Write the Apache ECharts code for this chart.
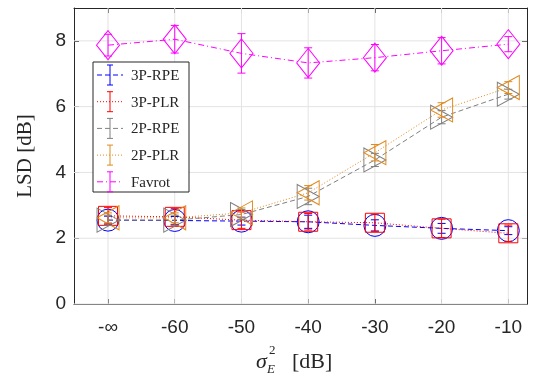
<!DOCTYPE html>
<html>
<head>
<meta charset="utf-8">
<script src="https://cdn.jsdelivr.net/npm/echarts@6/dist/echarts.min.js"></script>
<style>
  html, body { margin: 0; padding: 0; background: #fff; }
  #chart { width: 540px; height: 384px; }
</style>
</head>
<body>
<div id="chart"></div>
<script>
// x categories (noise level)
var categories = ['-∞', '-60', '-50', '-40', '-30', '-20', '-10'];
var xTicks = [0, 1, 2, 3, 4, 5, 6];
var yTicks = [0, 2, 4, 6, 8];

// LSD means and error half-widths
var rpe3 = [2.55, 2.54, 2.52, 2.50, 2.39, 2.30, 2.23];
var rpe3Err = [0.12, 0.12, 0.12, 0.20, 0.17, 0.15, 0.12];
var plr3 = [2.68, 2.65, 2.55, 2.50, 2.47, 2.30, 2.15];
var plr3Err = [0.25, 0.25, 0.25, 0.25, 0.26, 0.28, 0.25];
var rpe2 = [2.55, 2.55, 2.72, 3.27, 4.38, 5.68, 6.38];
var rpe2Err = [0.15, 0.15, 0.15, 0.25, 0.20, 0.20, 0.15];
var plr2 = [2.62, 2.62, 2.77, 3.38, 4.60, 5.90, 6.58];
var plr2Err = [0.15, 0.15, 0.15, 0.22, 0.25, 0.22, 0.18];
var favrot = [7.87, 8.05, 7.62, 7.33, 7.49, 7.70, 7.90];
var favrotErr = [0.33, 0.42, 0.60, 0.46, 0.40, 0.40, 0.23];

var serif = '"Liberation Serif", "DejaVu Serif", serif';
var sans = '"Liberation Sans", Arial, sans-serif';

var triRight = 'path://M0,0L10,6L0,12Z';
var triLeft = 'path://M10,0L0,6L10,12Z';

// 各曲线设置
var curves = [
    { name: '3P-RPE', y: rpe3, err: rpe3Err, color: '#0000ff', type: [5, 3], symbol: 'circle', size: 22 },
    { name: '3P-PLR', y: plr3, err: plr3Err, color: '#ff0000', type: [1, 2], symbol: 'rect', size: 19 },
    { name: '2P-RPE', y: rpe2, err: rpe2Err, color: '#808080', type: [5, 3], symbol: triRight, size: [22, 24] },
    { name: '2P-PLR', y: plr2, err: plr2Err, color: '#e08a1e', type: [1, 2], symbol: triLeft, size: [22, 24] },
    { name: 'Favrot', y: favrot, err: favrotErr, color: '#ff00ff', type: [6, 3, 1, 3], symbol: 'diamond', size: [23, 29] }
];

function errorBarSeries(c) {
    return {
        type: 'custom',
        name: c.name + '-err',
        z: 4,
        silent: true,
        data: c.y.map(function (v, i) { return [i, v - c.err[i], v + c.err[i]]; }),
        renderItem: function (params, api) {
            var lo = api.coord([api.value(0), api.value(1)]);
            var hi = api.coord([api.value(0), api.value(2)]);
            var cap = 4;
            var st = { stroke: c.color, lineWidth: 1 };
            return {
                type: 'group',
                children: [
                    { type: 'line', shape: { x1: lo[0], y1: lo[1], x2: hi[0], y2: hi[1] }, style: st },
                    { type: 'line', shape: { x1: lo[0] - cap, y1: lo[1], x2: lo[0] + cap, y2: lo[1] }, style: st },
                    { type: 'line', shape: { x1: hi[0] - cap, y1: hi[1], x2: hi[0] + cap, y2: hi[1] }, style: st }
                ]
            };
        }
    };
}

var series = [];
curves.forEach(function (c) {
    series.push({
        type: 'line',
        name: c.name,
        data: c.y.map(function (v, i) { return [i, v]; }),
        symbol: c.symbol,
        symbolSize: c.size,
        lineStyle: { color: c.color, width: 1, type: c.type },
        itemStyle: { color: 'rgba(0,0,0,0)', borderColor: c.color, borderWidth: 1 },
        emphasis: { disabled: true },
        z: 3
    });
    series.push(errorBarSeries(c));
});

// 网格线
series.push({
    type: 'custom', silent: true, z: 1,
    data: [0],
    renderItem: function (params, api) {
        var kids = [];
        var st = { stroke: '#e3e3e3', lineWidth: 1 };
        xTicks.forEach(function (i) {
            var a = api.coord([i, 0]), b = api.coord([i, 9]);
            kids.push({ type: 'line', shape: { x1: a[0], y1: a[1], x2: b[0], y2: b[1] }, style: st });
        });
        yTicks.forEach(function (t) {
            var a = api.coord([-0.51, t]), b = api.coord([6.28, t]);
            kids.push({ type: 'line', shape: { x1: a[0], y1: a[1], x2: b[0], y2: b[1] }, style: st });
        });
        return { type: 'group', children: kids };
    }
});

// 图例（手绘）
var legendItems = [];
var lx = 93, ly = 62, lw = 96, lh = 130;
legendItems.push({ type: 'rect', shape: { x: lx, y: ly, width: lw, height: lh }, style: { fill: '#fff', stroke: '#262626', lineWidth: 1 }, z: 10 });
curves.forEach(function (c, k) {
    var cy = 75 + k * 26.7;
    legendItems.push({ type: 'line', shape: { x1: 97, y1: cy, x2: 123, y2: cy }, style: { stroke: c.color, lineWidth: 1, lineDash: c.type }, z: 11 });
    legendItems.push({ type: 'line', shape: { x1: 110, y1: cy - 10, x2: 110, y2: cy + 10 }, style: { stroke: c.color, lineWidth: 1 }, z: 11 });
    legendItems.push({ type: 'line', shape: { x1: 107, y1: cy - 10, x2: 113, y2: cy - 10 }, style: { stroke: c.color, lineWidth: 1 }, z: 11 });
    legendItems.push({ type: 'line', shape: { x1: 107, y1: cy + 10, x2: 113, y2: cy + 10 }, style: { stroke: c.color, lineWidth: 1 }, z: 11 });
    legendItems.push({ type: 'text', x: 131, y: cy + 1, style: { text: c.name, font: '15px ' + serif, fill: '#262626', verticalAlign: 'middle' }, z: 11 });
});

// x 轴标题 σ_E^2 [dB]
var xTitle = [
    { type: 'text', x: 256, y: 362, style: { text: 'σ', font: 'italic 22px ' + serif, fill: '#262626', verticalAlign: 'middle' } },
    { type: 'text', x: 269, y: 351, style: { text: '2', font: '13px ' + serif, fill: '#262626', verticalAlign: 'middle' } },
    { type: 'text', x: 267, y: 370, style: { text: 'E', font: 'italic 13px ' + serif, fill: '#262626', verticalAlign: 'middle' } },
    { type: 'text', x: 292, y: 362, style: { text: '[dB]', font: '22px ' + serif, fill: '#262626', verticalAlign: 'middle' } }
];

var axisCol = '#262626';
var option = {
    animation: false,
    backgroundColor: '#fff',
    grid: { left: 74, right: 13, top: 8, bottom: 80, containLabel: false },
    xAxis: [
        {
            type: 'value', min: -0.51, max: 6.28,
            axisLine: { show: true, onZero: false, lineStyle: { color: axisCol } },
            axisTick: { show: true, inside: true, length: 5, lineStyle: { color: axisCol }, customValues: xTicks },
            axisLabel: {
                color: axisCol, fontFamily: sans, fontSize: 19, margin: 14,
                customValues: xTicks,
                formatter: function (v) { return categories[Math.round(v)]; }
            },
            splitLine: { show: false }
        },
        {
            type: 'value', min: -0.51, max: 6.28, position: 'top',
            axisLine: { show: true, onZero: false, lineStyle: { color: axisCol } },
            axisTick: { show: true, inside: true, length: 5, lineStyle: { color: axisCol }, customValues: xTicks },
            axisLabel: { show: false },
            splitLine: { show: false }
        }
    ],
    yAxis: [
        {
            type: 'value', min: 0, max: 9,
            name: 'LSD [dB]', nameLocation: 'middle', nameGap: 38,
            nameTextStyle: { fontFamily: serif, fontSize: 21, color: axisCol },
            axisLine: { show: true, onZero: false, lineStyle: { color: axisCol } },
            axisTick: { show: true, inside: true, length: 5, lineStyle: { color: axisCol }, customValues: yTicks },
            axisLabel: { color: axisCol, fontFamily: sans, fontSize: 19, margin: 8, customValues: yTicks },
            splitLine: { show: false }
        },
        {
            type: 'value', min: 0, max: 9, position: 'right',
            axisLine: { show: true, onZero: false, lineStyle: { color: axisCol } },
            axisTick: { show: true, inside: true, length: 5, lineStyle: { color: axisCol }, customValues: yTicks },
            axisLabel: { show: false },
            splitLine: { show: false }
        }
    ],
    series: series,
    graphic: legendItems.concat(xTitle)
};

var chart = echarts.init(document.getElementById('chart'));
chart.setOption(option);
</script>
</body>
</html>
